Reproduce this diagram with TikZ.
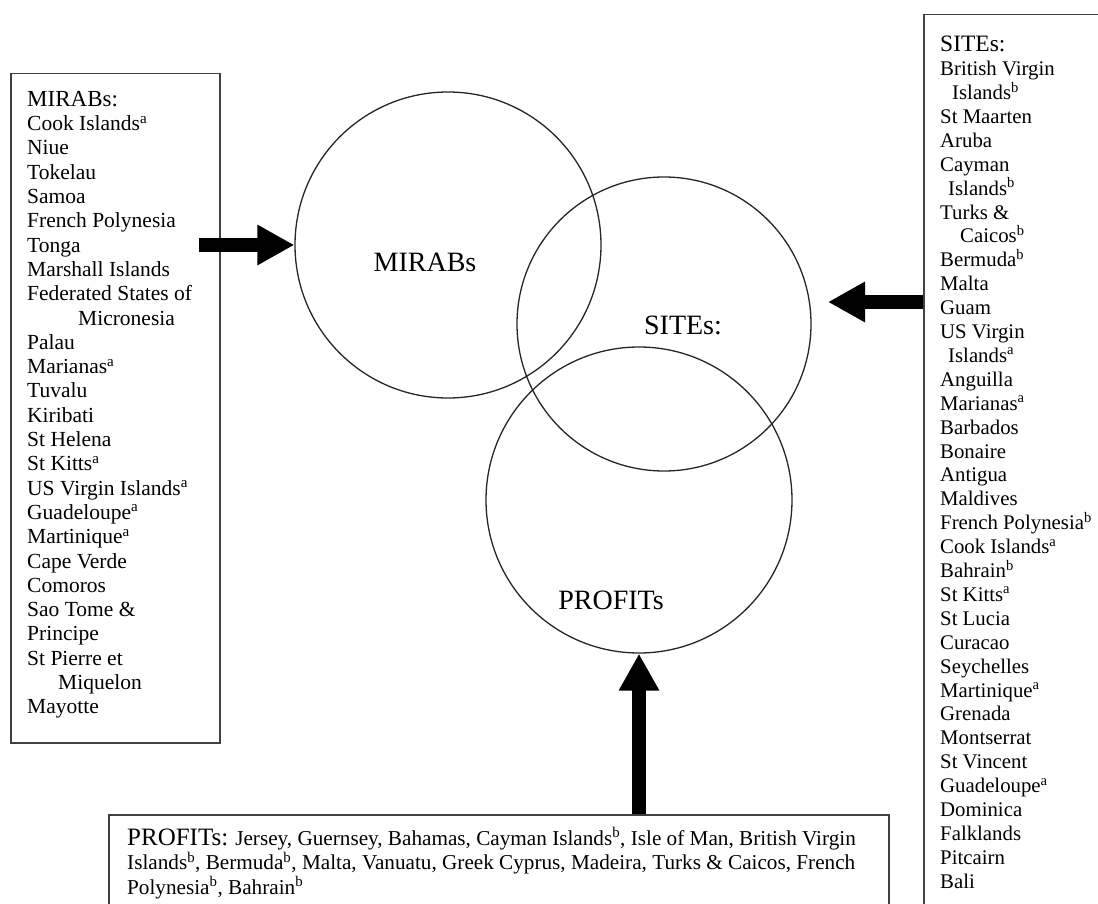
\documentclass[tikz,border=0pt]{standalone}
\usepackage{fontspec}
\setmainfont{Liberation Serif}
\usetikzlibrary{arrows.meta,positioning}

\newcommand{\ftnA}{\textsuperscript{a}}
\newcommand{\ftnB}{\textsuperscript{b}}

\tikzset{
  listbox/.style={draw=black!75, line width=1.5pt, anchor=north west, inner sep=0pt},
  listtext/.style={anchor=north west, inner sep=0pt, align=left},
  ring/.style={draw=black!85, line width=1.3pt, circle, inner sep=0pt},
  ringlabel/.style={font=\fontsize{28}{30}\selectfont},
  bigarrow/.style={line width=13.5pt, -{Triangle[length=37pt,width=38pt]}},
}

\begin{document}
\begin{tikzpicture}[x=1pt, y=-1pt]
\useasboundingbox (0,0) rectangle (1098,904);
\clip (0,0) rectangle (1098,904);

% Kaesten mit den Listen
\node[listbox, minimum width=209pt, minimum height=669pt] (mirabsbox) at (10,73) {};
\node[listbox, minimum width=300pt, minimum height=1000pt] (sitesbox) at (923,14) {};
\node[listbox, minimum width=780pt, minimum height=200pt] (profitsbox) at (108,814) {};

\node[listtext, font=\fontsize{21.5}{24.3}\selectfont] (mirabslist) at (27,91) {%
  {\fontsize{23}{24.3}\selectfont MIRABs:}\\
  Cook Islands\ftnA\\ Niue\\ Tokelau\\ Samoa\\ French Polynesia\\ Tonga\\
  Marshall Islands\\ Federated States of\\ \hspace*{51pt}Micronesia\\ Palau\\
  Marianas\ftnA\\ Tuvalu\\ Kiribati\\ St Helena\\ St Kitts\ftnA\\
  US Virgin Islands\ftnA\\ Guadeloupe\ftnA\\ Martinique\ftnA\\ Cape Verde\\
  Comoros\\ Sao Tome \&\\ Principe\\ St Pierre et\\ \hspace*{31pt}Miquelon\\
  Mayotte};

\node[listtext, font=\fontsize{20.8}{23.9}\selectfont] (siteslist) at (940,36) {%
  {\fontsize{23.5}{23.9}\selectfont SITEs:}\\
  British Virgin\\ \hspace*{12pt}Islands\ftnB\\ St Maarten\\ Aruba\\ Cayman\\
  \hspace*{8pt}Islands\ftnB\\ Turks \&\\ \hspace*{20pt}Caicos\ftnB\\ Bermuda\ftnB\\
  Malta\\ Guam\\ US Virgin\\ \hspace*{8pt}Islands\ftnA\\ Anguilla\\ Marianas\ftnA\\
  Barbados\\ Bonaire\\ Antigua\\ Maldives\\ French Polynesia\ftnB\\
  Cook Islands\ftnA\\ Bahrain\ftnB\\ St Kitts\ftnA\\ St Lucia\\ Curacao\\
  Seychelles\\ Martinique\ftnA\\ Grenada\\ Montserrat\\ St Vincent\\
  Guadeloupe\ftnA\\ Dominica\\ Falklands\\ Pitcairn\\ Bali};

\node[listtext, font=\fontsize{21.2}{24.5}\selectfont] (profitslist) at (127,827) {%
  {\fontsize{25}{24.5}\selectfont PROFITs:} Jersey, Guernsey, Bahamas, Cayman Islands\ftnB, Isle of Man, British Virgin\\
  Islands\ftnB, Bermuda\ftnB, Malta, Vanuatu, Greek Cyprus, Madeira, Turks \& Caicos, French\\
  Polynesia\ftnB, Bahrain\ftnB};

% Kreise
\node[ring, minimum size=306pt] (mirabs) at (448,245) {};
\node[ring, minimum size=294pt] (sites) at (664,324) {};
\node[ring, minimum size=306pt] (profits) at (639,500) {};

\node[ringlabel] (mirabslabel) at (425,262) {MIRABs};
\node[ringlabel] (siteslabel) at (683,325) {SITEs:};
\node[ringlabel] (profitslabel) at (611,600) {PROFITs};

% Pfeile
\coordinate (mirabsfrom) at (199,245);
\coordinate (sitesto) at (828,302);
\draw[bigarrow] (mirabsfrom) -- (mirabs.west);
\draw[bigarrow] (sitesto -| sitesbox.west) -- (sitesto);
\draw[bigarrow] (profits.south |- profitsbox.north) -- (profits.south);
\end{tikzpicture}
\end{document}
